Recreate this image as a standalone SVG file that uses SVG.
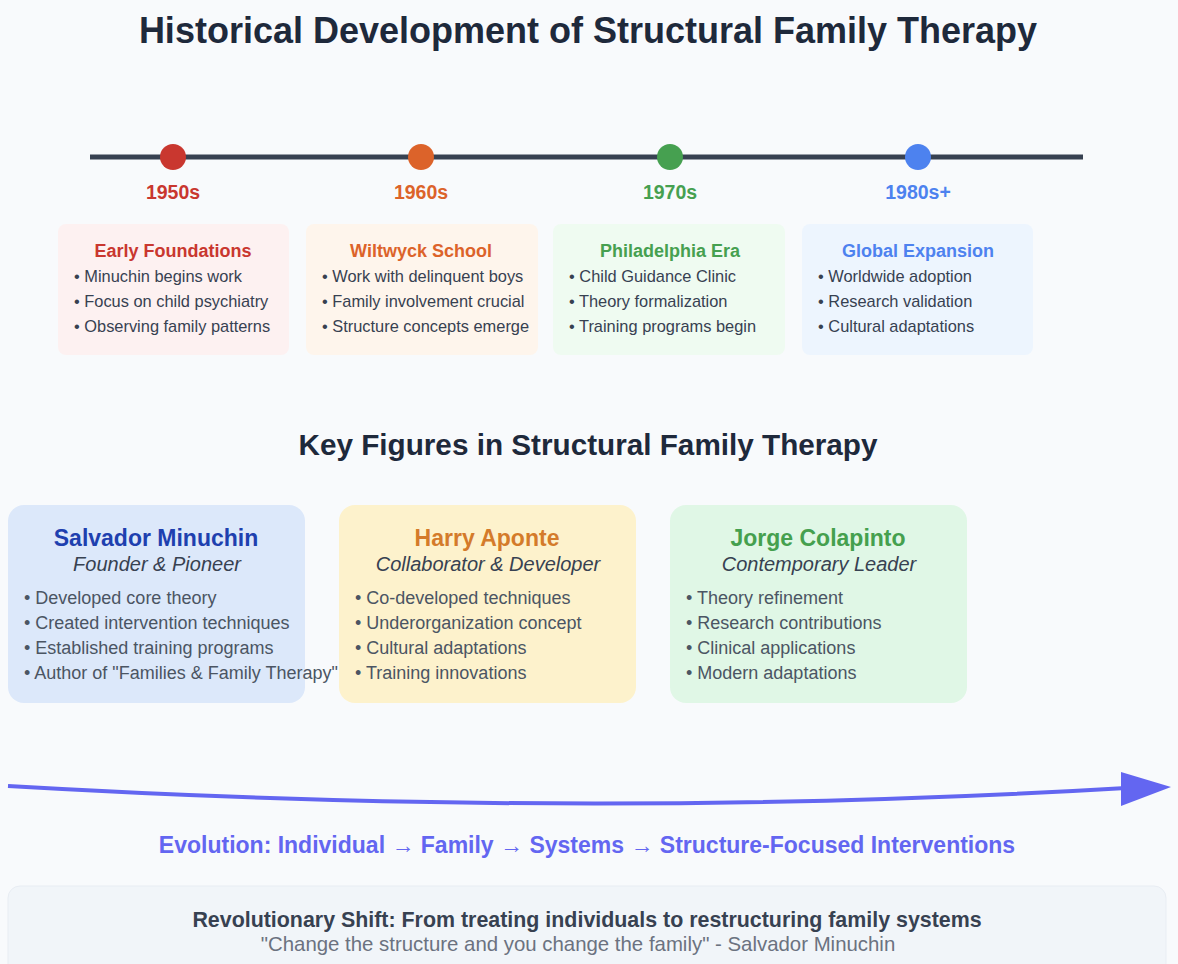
<svg xmlns="http://www.w3.org/2000/svg" width="1178" height="964" viewBox="0 0 1178 964">
<style>
text{font-family:"Liberation Sans",Arial,sans-serif}
.title{font-size:36px;font-weight:bold;fill:#1e293b;text-anchor:middle}
.sub{font-size:29.7px;font-weight:bold;fill:#1e293b;text-anchor:middle}
.year{font-size:19.5px;font-weight:bold;text-anchor:middle}
.ct{font-size:18px;font-weight:bold;text-anchor:middle}
.cb{font-size:16.4px;fill:#374151}
.fn{font-size:23px;font-weight:bold;text-anchor:middle}
.fr{font-size:20px;font-style:italic;fill:#374151;text-anchor:middle}
.fb{font-size:18px;fill:#4b5563}
.card{rx:8;ry:8}
.fcard{rx:16;ry:16}
</style>
<rect width="1178" height="964" fill="#f8fafc"/>
<text class="title" x="588" y="43">Historical Development of Structural Family Therapy</text>

<g id="timeline">
<line x1="90" y1="157" x2="1083" y2="157" stroke="#374151" stroke-width="5"/>
</g>

<g id="era-1950s">
<circle cx="173" cy="157" r="13" fill="#c9372f"/>
<text class="year" x="173" y="199" fill="#c9372f">1950s</text>
<rect class="card" x="58" y="224" width="231" height="131" fill="#fdf1f1"/>
<text class="ct" x="173" y="257" fill="#c9372f">Early Foundations</text>
<text class="cb" x="74" y="282">• Minuchin begins work</text>
<text class="cb" x="74" y="307">• Focus on child psychiatry</text>
<text class="cb" x="74" y="332">• Observing family patterns</text>
</g>

<g id="era-1960s">
<circle cx="421" cy="157" r="13" fill="#dc632a"/>
<text class="year" x="421" y="199" fill="#dc632a">1960s</text>
<rect class="card" x="306" y="224" width="232" height="131" fill="#fef5ec"/>
<text class="ct" x="421" y="257" fill="#dc632a">Wiltwyck School</text>
<text class="cb" x="322" y="282">• Work with delinquent boys</text>
<text class="cb" x="322" y="307">• Family involvement crucial</text>
<text class="cb" x="322" y="332">• Structure concepts emerge</text>
</g>

<g id="era-1970s">
<circle cx="670" cy="157" r="13" fill="#46a050"/>
<text class="year" x="670" y="199" fill="#46a050">1970s</text>
<rect class="card" x="553" y="224" width="232" height="131" fill="#effbf1"/>
<text class="ct" x="670" y="257" fill="#46a050">Philadelphia Era</text>
<text class="cb" x="569" y="282">• Child Guidance Clinic</text>
<text class="cb" x="569" y="307">• Theory formalization</text>
<text class="cb" x="569" y="332">• Training programs begin</text>
</g>

<g id="era-1980s">
<circle cx="918" cy="157" r="13" fill="#4d82ef"/>
<text class="year" x="918" y="199" fill="#4d82ef">1980s+</text>
<rect class="card" x="802" y="224" width="231" height="131" fill="#edf5fe"/>
<text class="ct" x="918" y="257" fill="#4d82ef">Global Expansion</text>
<text class="cb" x="818" y="282">• Worldwide adoption</text>
<text class="cb" x="818" y="307">• Research validation</text>
<text class="cb" x="818" y="332">• Cultural adaptations</text>
</g>

<text class="sub" x="588" y="455">Key Figures in Structural Family Therapy</text>

<g id="fig-minuchin">
<rect class="fcard" x="8" y="505" width="297" height="198" fill="#dce8fa"/>
<text class="fn" x="156" y="546" fill="#1e40af">Salvador Minuchin</text>
<text class="fr" x="157" y="571">Founder &amp; Pioneer</text>
<text class="fb" x="24" y="604">• Developed core theory</text>
<text class="fb" x="24" y="629">• Created intervention techniques</text>
<text class="fb" x="24" y="654">• Established training programs</text>
<text class="fb" x="24" y="679">• Author of "Families &amp; Family Therapy"</text>
</g>

<g id="fig-aponte">
<rect class="fcard" x="339" y="505" width="297" height="198" fill="#fdf2cc"/>
<text class="fn" x="487" y="546" fill="#d47b2a">Harry Aponte</text>
<text class="fr" x="488" y="571">Collaborator &amp; Developer</text>
<text class="fb" x="355" y="604">• Co-developed techniques</text>
<text class="fb" x="355" y="629">• Underorganization concept</text>
<text class="fb" x="355" y="654">• Cultural adaptations</text>
<text class="fb" x="355" y="679">• Training innovations</text>
</g>

<g id="fig-colapinto">
<rect class="fcard" x="670" y="505" width="297" height="198" fill="#e0f7e6"/>
<text class="fn" x="818" y="546" fill="#45a04e">Jorge Colapinto</text>
<text class="fr" x="819" y="571">Contemporary Leader</text>
<text class="fb" x="686" y="604">• Theory refinement</text>
<text class="fb" x="686" y="629">• Research contributions</text>
<text class="fb" x="686" y="654">• Clinical applications</text>
<text class="fb" x="686" y="679">• Modern adaptations</text>
</g>

<g id="connectors">
<path d="M8,786 Q590,820 1126,788" fill="none" stroke="#6366f1" stroke-width="4"/>
<polygon points="1121,772 1171,787 1121,806" fill="#6366f1"/>
</g>

<text x="587" y="853" font-size="23" font-weight="bold" fill="#6366f1" text-anchor="middle">Evolution: Individual → Family → Systems → Structure-Focused Interventions</text>

<g id="summary">
<rect x="8" y="886" width="1158" height="100" rx="12" ry="12" fill="#f1f5f9" stroke="#e8edf3" stroke-width="1"/>
<text x="587" y="927" font-size="21.4" font-weight="bold" fill="#374151" text-anchor="middle">Revolutionary Shift: From treating individuals to restructuring family systems</text>
<text x="578" y="951" font-size="20.4" fill="#6b7280" text-anchor="middle">"Change the structure and you change the family" - Salvador Minuchin</text>
</g>
</svg>
